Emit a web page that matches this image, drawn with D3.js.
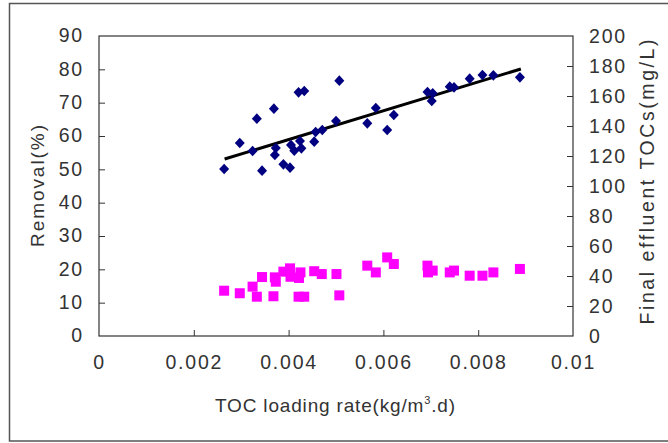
<!DOCTYPE html>
<html><head><meta charset="utf-8">
<script src="https://cdn.jsdelivr.net/npm/d3@7"></script>
<style>
html,body{margin:0;padding:0;background:#fff;}
svg{display:block;}
text{font-family:"Liberation Sans",Arial,sans-serif;fill:#333;}
</style></head>
<body>
<svg id="chart" width="668" height="443"></svg>
<script>
// ---- data ----
const xTicks = [0, 0.002, 0.004, 0.006, 0.008, 0.01];
const xTickLabels = ["0", "0.002", "0.004", "0.006", "0.008", "0.01"];
const leftTicks = [0,10,20,30,40,50,60,70,80,90];
const rightTicks = [0,20,40,60,80,100,120,140,160,180,200];

const removalX = [0.00264,0.00297,0.00333,0.00324,0.00344,0.00369,0.00373,0.00371,0.00389,0.00403,0.00405,0.00412,0.00424,0.00427,0.00421,0.00433,0.00454,0.00457,0.00471,0.00500,0.00507,0.00566,0.00584,0.00608,0.00622,0.00693,0.00704,0.00702,0.00740,0.00749,0.00782,0.00809,0.00832,0.00888];
const removalY = [50.1,57.9,65.2,55.5,49.6,68.2,56.4,54.3,51.5,50.5,57.3,55.6,58.5,56.3,73.1,73.5,58.3,61.2,61.8,64.5,76.6,63.8,68.4,61.8,66.3,73.2,72.8,70.5,74.8,74.6,77.2,78.3,78.2,77.6];

const effluentX = [0.00264,0.00297,0.00324,0.00333,0.00344,0.00368,0.00371,0.00373,0.00389,0.00403,0.00404,0.00425,0.00422,0.00421,0.00433,0.00454,0.00470,0.00501,0.00507,0.00566,0.00584,0.00608,0.00622,0.00693,0.00704,0.00694,0.00740,0.00749,0.00782,0.00809,0.00832,0.00888];
const effluentY = [30.2,28.5,32.9,26.2,39.3,26.5,39.1,36.2,42.9,45.1,39.5,42.4,38.7,26.2,26.2,43.2,41.3,41.3,27.1,46.9,42.4,52.4,48.0,46.9,43.6,42.4,42.4,43.6,40.2,40.2,42.4,44.7];

const trendX = [0.00265, 0.0089];
const trendY = [53.1, 80.1];

const xTitle = "TOC loading rate(kg/m";
const leftTitle = "Removal(%)";
const rightTitle = "Final effluent TOCs(mg/L)";

// ---- layout ----
const svg = d3.select("#chart");
const L = 99, R = 573, T = 36, B = 336;

const x = d3.scaleLinear().domain([0, 0.01]).range([L, R]);
const yL = d3.scaleLinear().domain([0, 90]).range([B, T]);
const yR = d3.scaleLinear().domain([0, 200]).range([B, T]);

// outer frame
svg.append("rect").attr("x", 9.5).attr("y", 3.5).attr("width", 680).attr("height", 437.5)
  .attr("fill", "none").attr("stroke", "#555").attr("stroke-width", 1.5);

const numFont = "19.5px";
const spacing = "1.8px";

// left axis
const gL = svg.append("g").attr("transform", `translate(${L},0)`)
  .call(d3.axisLeft(yL).tickValues(leftTicks).tickSizeInner(-6).tickSizeOuter(0).tickPadding(15).tickFormat(d3.format("d")));
// right axis
const gR = svg.append("g").attr("transform", `translate(${R},0)`)
  .call(d3.axisRight(yR).tickValues(rightTicks).tickSizeInner(-6).tickSizeOuter(0).tickPadding(16).tickFormat(d3.format("d")));
// bottom axis
const gB = svg.append("g").attr("transform", `translate(0,${B})`)
  .call(d3.axisBottom(x).tickValues(xTicks).tickSizeInner(-6).tickSizeOuter(0).tickPadding(24)
    .tickFormat((d, i) => xTickLabels[i]));

[gL, gR, gB].forEach(g => {
  g.select(".domain").remove();
  g.selectAll(".tick line").attr("stroke", "#333");
  g.selectAll(".tick text").attr("font-size", numFont).attr("letter-spacing", spacing)
    .attr("font-family", "Liberation Sans, Arial, sans-serif").attr("fill", "#333");
});
gB.selectAll(".tick text").attr("dy", "0.45em");
gL.selectAll(".tick text").attr("dy", "0.3em");
gR.selectAll(".tick text").attr("dy", "0.35em");
// no tick mark at the ends
gB.selectAll(".tick line").filter(d => d === 0 || d === 0.01).remove();
gL.selectAll(".tick line").filter(d => d === 0 || d === 90).remove();
gR.selectAll(".tick line").filter(d => d === 0 || d === 200).remove();

// plot frame
svg.append("rect").attr("x", L).attr("y", T).attr("width", R - L).attr("height", B - T)
  .attr("fill", "none").attr("stroke", "#333").attr("stroke-width", 1.2);

// trend line
svg.append("path")
  .datum(trendX.map((d, i) => [d, trendY[i]]))
  .attr("d", d3.line().x(d => x(d[0])).y(d => yL(d[1])))
  .attr("stroke", "#000").attr("stroke-width", 3).attr("fill", "none");

// removal diamonds
const diamond = "M0,-5.3L5,0L0,5.3L-5,0Z";
svg.append("g").selectAll("path").data(removalX.map((d, i) => [d, removalY[i]])).join("path")
  .attr("transform", d => `translate(${x(d[0])},${yL(d[1])})`)
  .attr("d", diamond).attr("fill", "#000080");

// effluent squares
svg.append("g").selectAll("rect").data(effluentX.map((d, i) => [d, effluentY[i]])).join("rect")
  .attr("x", d => x(d[0]) - 5).attr("y", d => yR(d[1]) - 5)
  .attr("width", 10).attr("height", 10).attr("fill", "#FF00FF");

// titles
const xt = svg.append("text").attr("x", 335).attr("y", 412).attr("text-anchor", "middle")
  .attr("font-size", "19px");
xt.append("tspan").text(xTitle);
xt.append("tspan").attr("font-size", "11px").attr("dy", "-8").text("3");
xt.append("tspan").attr("dy", "8").text(".d)");
xt.attr("textLength", 240).attr("lengthAdjust", "spacing");

svg.append("text").attr("transform", "translate(44,186) rotate(-90)")
  .attr("text-anchor", "middle").attr("font-size", "19px")
  .attr("textLength", 122).attr("lengthAdjust", "spacing").text(leftTitle);

svg.append("text").attr("transform", "translate(654,182) rotate(-90)")
  .attr("text-anchor", "middle").attr("font-size", "19.5px")
  .attr("textLength", 285).attr("lengthAdjust", "spacing").text(rightTitle);
</script>
</body></html>
